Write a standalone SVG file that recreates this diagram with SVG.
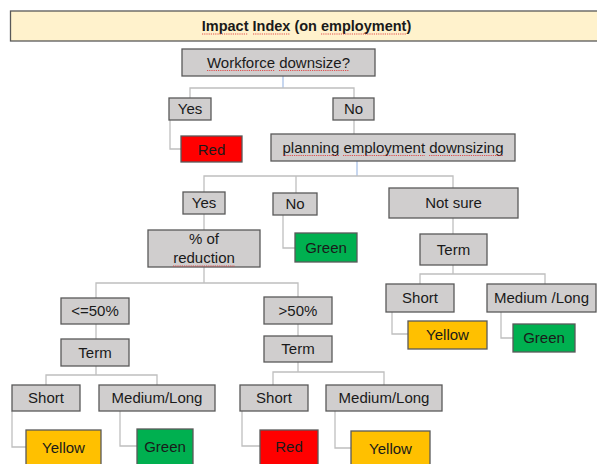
<svg xmlns="http://www.w3.org/2000/svg" width="597" height="464" viewBox="0 0 597 464">
<defs>
<style>
.bx{fill:#D0CECE;stroke:#595959;stroke-width:1.3}
.red{fill:#FF0000;stroke:#595959;stroke-width:1.3}
.grn{fill:#00B050;stroke:#595959;stroke-width:1.3}
.yel{fill:#FFC000;stroke:#595959;stroke-width:1.3}
.ttl{fill:#FFF2CC;stroke:#595959;stroke-width:1.3}
text{font-family:"Liberation Sans",Arial,sans-serif;font-size:15px;fill:#1a1a1a;text-anchor:middle}
.tb{font-weight:bold;font-size:14.5px}
.ln{fill:none;stroke:#BFBFBF;stroke-width:1.3}
.bl{fill:none;stroke:#A9C2E8;stroke-width:1.3}
.sq{fill:none;stroke:#E04040;stroke-width:0.9;stroke-dasharray:1.2 1}
</style>
</defs>
<rect width="597" height="464" fill="#FFFFFF"/>
<g id="connectors">
<path class="bl" d="M283 76V88"/>
<path class="ln" d="M190 98V88H354V98"/>
<path class="ln" d="M170 120V149H181"/>
<path class="ln" d="M354 120V134"/>
<path class="bl" d="M357 161V176"/>
<path class="ln" d="M204 192V176H453V188"/>
<path class="ln" d="M296 176V193"/>
<path class="ln" d="M204 214V230"/>
<path class="ln" d="M283 215V248H295"/>
<path class="ln" d="M453 218V234"/>
<path class="ln" d="M453 265V274"/>
<path class="ln" d="M420 284V274H545V284"/>
<path class="ln" d="M392 312V334H408"/>
<path class="ln" d="M501 312V338H513"/>
<path class="ln" d="M204 267V283"/>
<path class="ln" d="M96 298V283H298V297"/>
<path class="ln" d="M96 324V339"/>
<path class="ln" d="M298 324V336"/>
<path class="ln" d="M96 366V375"/>
<path class="ln" d="M46 385V375H157V385"/>
<path class="ln" d="M298 362V372"/>
<path class="ln" d="M273 385V372H384V385"/>
<path class="ln" d="M12 411V447H26"/>
<path class="ln" d="M120 411V446H137"/>
<path class="ln" d="M242 411V446H260"/>
<path class="ln" d="M335 411V448H351"/>
</g>
<g id="title">
<rect class="ttl" x="10.5" y="11" width="600" height="30"/>
<text class="tb" x="306.5" y="31">Impact Index (on employment)</text>
<path class="sq" d="M202 34H248M253 34H290M321 34H406"/>
</g>
<g id="n_workforce">
<rect class="bx" x="182" y="49" width="193" height="27"/>
<text x="278.5" y="67.5">Workforce downsize?</text>
<path class="sq" d="M207 70.5H275M279 70.5H349"/>
</g>
<g id="n_yes1"><rect class="bx" x="169" y="98" width="42" height="22"/><text x="190" y="114">Yes</text></g>
<g id="n_no1"><rect class="bx" x="333" y="98" width="41" height="22"/><text x="353.5" y="114">No</text></g>
<g id="n_red1"><rect class="red" x="181" y="136" width="61" height="26"/><text x="211.5" y="154.5">Red</text></g>
<g id="n_planning">
<rect class="bx" x="271" y="134" width="244" height="27"/>
<text x="393" y="152.5">planning employment downsizing</text>
<path class="sq" d="M283 155.5H339M343 155.5H425M429 155.5H503"/>
</g>
<g id="n_yes2"><rect class="bx" x="183" y="192" width="42" height="22"/><text x="204" y="208">Yes</text></g>
<g id="n_no2"><rect class="bx" x="273" y="193" width="44" height="22"/><text x="295" y="209">No</text></g>
<g id="n_notsure"><rect class="bx" x="389" y="188" width="129" height="30"/><text x="453.5" y="208">Not sure</text></g>
<g id="n_reduction">
<rect class="bx" x="148" y="230" width="112" height="37"/>
<text x="204" y="244">% of</text>
<text x="204" y="263">reduction</text>
<path class="sq" d="M173 266H235"/>
</g>
<g id="n_green1"><rect class="grn" x="295" y="233" width="62" height="29"/><text x="326" y="252.5">Green</text></g>
<g id="n_term_r"><rect class="bx" x="420" y="234" width="67" height="31"/><text x="453.5" y="254.5">Term</text></g>
<g id="n_short_r"><rect class="bx" x="386" y="284" width="68" height="28"/><text x="420" y="303">Short</text></g>
<g id="n_medlong_r"><rect class="bx" x="487" y="284" width="109" height="28"/><text x="541.5" y="303">Medium /Long</text></g>
<g id="n_yellow_r"><rect class="yel" x="408" y="321" width="79" height="28"/><text x="447.5" y="340">Yellow</text></g>
<g id="n_green_r"><rect class="grn" x="513" y="324" width="62" height="28"/><text x="544" y="343">Green</text></g>
<g id="n_le50"><rect class="bx" x="61" y="298" width="68" height="26"/><text x="95" y="316">&lt;=50%</text></g>
<g id="n_gt50"><rect class="bx" x="264" y="297" width="68" height="27"/><text x="298" y="315.5">&gt;50%</text></g>
<g id="n_term_l"><rect class="bx" x="61" y="339" width="68" height="27"/><text x="95" y="357.5">Term</text></g>
<g id="n_term_m"><rect class="bx" x="264" y="336" width="68" height="26"/><text x="298" y="354">Term</text></g>
<g id="n_short_l"><rect class="bx" x="12" y="385" width="68" height="26"/><text x="46" y="403">Short</text></g>
<g id="n_medlong_l"><rect class="bx" x="99" y="385" width="116" height="26"/><text x="157" y="403">Medium/Long</text></g>
<g id="n_short_m"><rect class="bx" x="240" y="385" width="68" height="26"/><text x="274" y="403">Short</text></g>
<g id="n_medlong_m"><rect class="bx" x="326" y="385" width="116" height="26"/><text x="384" y="403">Medium/Long</text></g>
<g id="n_yellow_l"><rect class="yel" x="26" y="430" width="75" height="38"/><text x="63.5" y="452.5">Yellow</text></g>
<g id="n_green_l"><rect class="grn" x="137" y="429" width="56" height="39"/><text x="165" y="451.5">Green</text></g>
<g id="n_red_m"><rect class="red" x="260" y="430" width="58" height="38"/><text x="289" y="451.5">Red</text></g>
<g id="n_yellow_m"><rect class="yel" x="351" y="431" width="79" height="37"/><text x="390.5" y="454">Yellow</text></g>
</svg>
